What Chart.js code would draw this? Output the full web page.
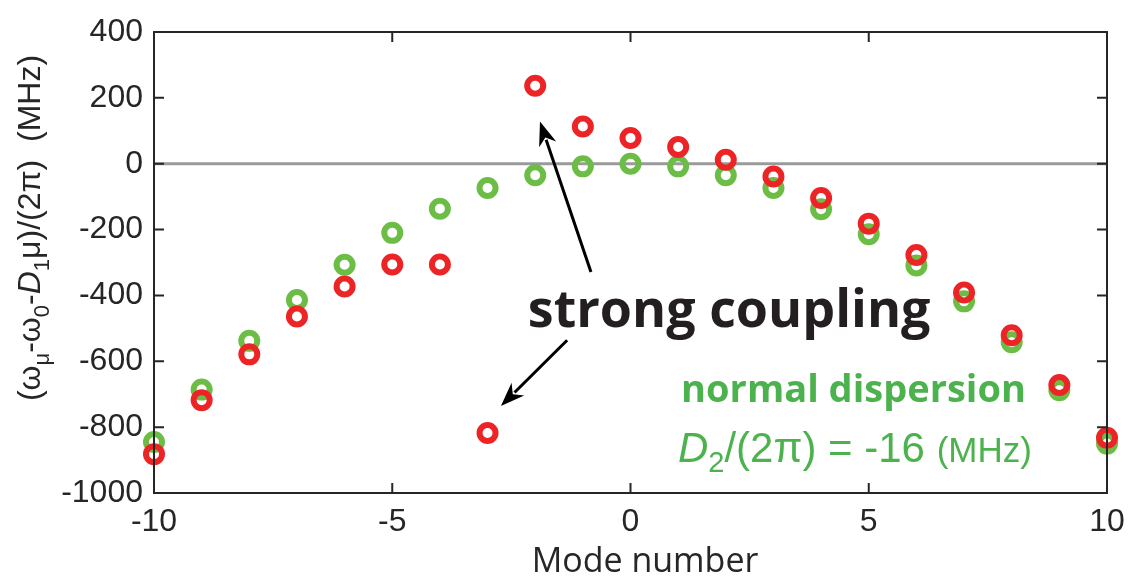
<!DOCTYPE html>
<html>
<head>
<meta charset="utf-8">
<script src="https://cdn.jsdelivr.net/npm/chart.js@4/dist/chart.umd.min.js"></script>
<style>
  html, body { margin: 0; padding: 0; background: #fff; }
  #wrap { width: 1139px; height: 583px; }
</style>
</head>
<body>
<div id="wrap"><canvas id="myChart" width="1139" height="583"></canvas></div>
<script>
// mode numbers on the x axis
const modes = [-10, -9, -8, -7, -6, -5, -4, -3, -2, -1, 0, 1, 2, 3, 4, 5, 6, 7, 8, 9, 10];
// green: normal dispersion, no coupling
const normalDispersion = [-845, -686, -538, -414, -307, -210, -137, -74, -35, -8, 0, -8, -35, -74, -138, -214, -309, -418, -542, -688, -850];
// red: measured with strong coupling near mu = -3 / -2
const coupledModes = [-882, -718, -579, -464, -373, -306, -306, -818, 237, 113, 78, 51, 12, -39, -104, -182, -277, -391, -521, -672, -832];
const xTicks = [-10, -5, 0, 5, 10];
const yTicks = [-1000, -800, -600, -400, -200, 0, 200, 400];

const RED = "rgb(237,36,38)";
const GREEN = "rgb(108,189,69)";
const TEXT_GREEN = "rgb(76,178,78)";
const AXIS = "#262626";
const SANS = "'Liberation Sans', Arial";

const toPoints = (ys) => modes.map((m, i) => ({ x: m, y: ys[i] }));

// draw a run of text pieces: [text, font, dy]
function drawPieces(ctx, pieces, x, y, align) {
  let total = 0;
  pieces.forEach(p => { ctx.font = p[1]; total += ctx.measureText(p[0]).width; });
  let cx = align === "center" ? x - total / 2 : x;
  pieces.forEach(p => {
    ctx.font = p[1];
    ctx.fillText(p[0], cx, y + (p[2] || 0));
    cx += ctx.measureText(p[0]).width;
  });
}

function arrow(ctx, x1, y1, x2, y2) {
  const ang = Math.atan2(y2 - y1, x2 - x1);
  const len = 24, wid = 9;
  const c = Math.cos(ang), s = Math.sin(ang);
  ctx.beginPath();
  ctx.moveTo(x1, y1);
  ctx.lineTo(x2 - c * len * 0.8, y2 - s * len * 0.8);
  ctx.lineWidth = 3;
  ctx.strokeStyle = "#000";
  ctx.stroke();
  ctx.beginPath();
  ctx.moveTo(x2, y2);
  ctx.lineTo(x2 - c * len + s * wid, y2 - s * len - c * wid);
  ctx.lineTo(x2 - c * len * 0.7, y2 - s * len * 0.7);
  ctx.lineTo(x2 - c * len - s * wid, y2 - s * len + c * wid);
  ctx.closePath();
  ctx.fillStyle = "#000";
  ctx.fill();
}

// zero line under the markers, frame + ticks + text on top
const framePlugin = {
  id: "frame",
  beforeDatasetsDraw(chart) {
    const { ctx, chartArea: a, scales: { y } } = chart;
    ctx.save();
    const y0 = y.getPixelForValue(0);
    ctx.strokeStyle = "#9a9a9a";
    ctx.lineWidth = 3;
    ctx.beginPath();
    ctx.moveTo(a.left, y0);
    ctx.lineTo(a.right, y0);
    ctx.stroke();
    ctx.restore();
  },
  afterDraw(chart) {
    const { ctx, chartArea: a, scales: { x, y } } = chart;
    ctx.save();
    ctx.strokeStyle = AXIS;
    ctx.lineWidth = 2;
    ctx.strokeRect(a.left, a.top, a.right - a.left, a.bottom - a.top);
    ctx.beginPath();
    yTicks.forEach(v => {
      const py = y.getPixelForValue(v);
      ctx.moveTo(a.left, py); ctx.lineTo(a.left + 10, py);
      ctx.moveTo(a.right, py); ctx.lineTo(a.right - 10, py);
    });
    xTicks.forEach(v => {
      const px = x.getPixelForValue(v);
      ctx.moveTo(px, a.bottom); ctx.lineTo(px, a.bottom - 10);
      ctx.moveTo(px, a.top); ctx.lineTo(px, a.top + 10);
    });
    ctx.stroke();

    // annotations
    ctx.textBaseline = "alphabetic";
    arrow(ctx, x.getPixelForValue(-0.83), y.getPixelForValue(-329), x.getPixelForValue(-1.9), y.getPixelForValue(128));
    arrow(ctx, x.getPixelForValue(-1.33), y.getPixelForValue(-536), x.getPixelForValue(-2.72), y.getPixelForValue(-736));

    ctx.fillStyle = "#231f20";
    ctx.textAlign = "center";
    ctx.font = "bold 52px 'Open Sans'";
    ctx.fillText("strong coupling", x.getPixelForValue(2.07), y.getPixelForValue(-496));

    ctx.fillStyle = TEXT_GREEN;
    ctx.font = "bold 38px 'Open Sans'";
    ctx.fillText("normal dispersion", x.getPixelForValue(4.68), y.getPixelForValue(-724));

    ctx.textAlign = "left";
    drawPieces(ctx, [
      ["D", "italic 42px " + SANS, 0],
      ["2", "29px " + SANS, 10],
      ["/(2\u03c0) = -16 ", "42px " + SANS, 0],
      ["(MHz)", "35px " + SANS, 0]
    ], x.getPixelForValue(4.71), y.getPixelForValue(-907), "center");

    // x axis title
    ctx.fillStyle = AXIS;
    ctx.textAlign = "center";
    ctx.font = "34px 'Open Sans'";
    ctx.fillText("Mode number", 645, 572);

    // y axis title, rotated
    ctx.translate(40, 228);
    ctx.rotate(-Math.PI / 2);
    ctx.textAlign = "left";
    drawPieces(ctx, [
      ["(\u03c9", "32px " + SANS, 0],
      ["\u03bc", "22px " + SANS, 9],
      ["-\u03c9", "32px " + SANS, 0],
      ["0", "22px " + SANS, 9],
      ["-", "32px " + SANS, 0],
      ["D", "italic 32px " + SANS, 0],
      ["1", "22px " + SANS, 9],
      ["\u03bc)/(2\u03c0)  (MHz)", "32px " + SANS, 0]
    ], 0, 0, "center");
    ctx.restore();
  }
};

const ring = (color) => ({
  pointStyle: "circle",
  pointRadius: 8,
  pointHoverRadius: 8,
  pointBorderWidth: 6,
  pointBackgroundColor: "rgba(0,0,0,0)",
  pointBorderColor: color,
  showLine: false,
  clip: false
});

new Chart(document.getElementById("myChart"), {
  type: "scatter",
  data: {
    datasets: [
      Object.assign({ label: "strong coupling", data: toPoints(coupledModes) }, ring(RED)),
      Object.assign({ label: "normal dispersion", data: toPoints(normalDispersion) }, ring(GREEN))
    ]
  },
  options: {
    responsive: false,
    animation: false,
    events: [],
    layout: { padding: { top: 32, right: 32, left: 0, bottom: 0 } },
    plugins: { legend: { display: false }, tooltip: { enabled: false } },
    scales: {
      x: {
        type: "linear",
        min: -10, max: 10,
        afterFit: (s) => { s.height = 90; },
        afterBuildTicks: (s) => { s.ticks = xTicks.map(v => ({ value: v })); },
        grid: { display: false, drawTicks: false },
        border: { display: false },
        ticks: { padding: 10, color: AXIS, font: { family: SANS, size: 32 }, callback: (v) => String(v) }
      },
      y: {
        type: "linear",
        min: -1000, max: 400,
        afterFit: (s) => { s.width = 154; },
        afterBuildTicks: (s) => { s.ticks = yTicks.map(v => ({ value: v })); },
        grid: { display: false, drawTicks: false },
        border: { display: false },
        ticks: { padding: 11, color: AXIS, font: { family: SANS, size: 32 }, callback: (v) => String(v) }
      }
    }
  },
  plugins: [framePlugin]
});
</script>
</body>
</html>
